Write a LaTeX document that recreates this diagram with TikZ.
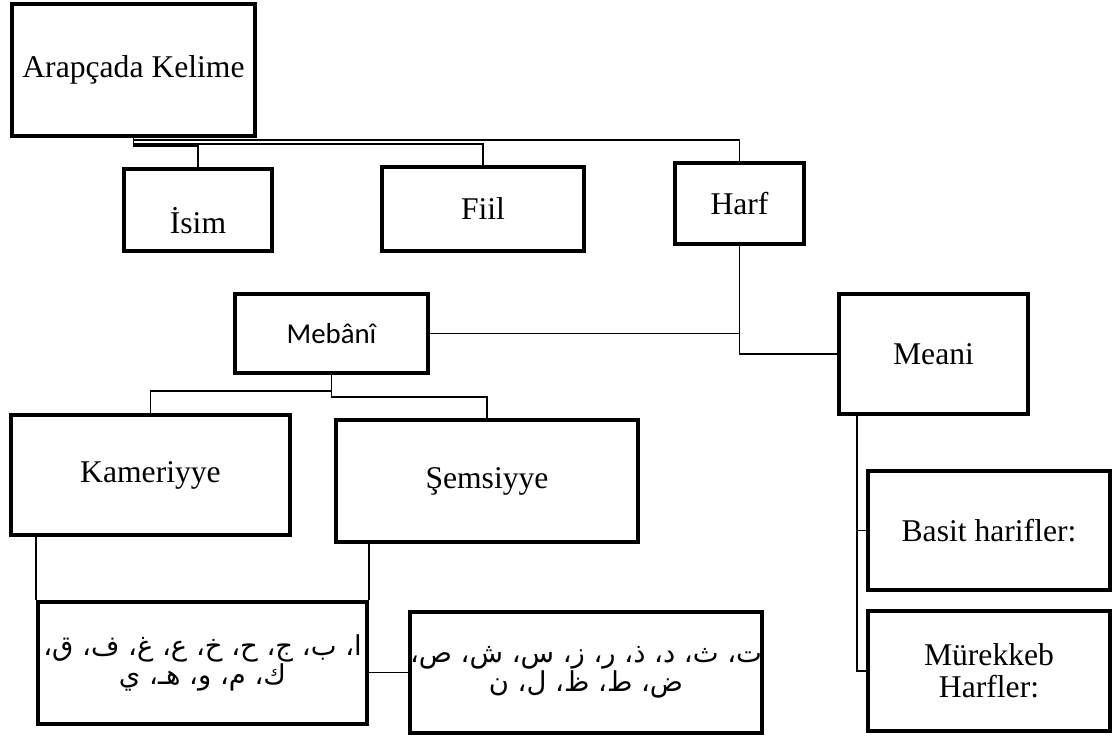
\documentclass[tikz,border=0pt]{standalone}
\usepackage{fontspec}
\setmainfont{Liberation Serif}
\newfontfamily\calibrifont{Carlito}
\newfontfamily\arabicfont[Script=Arabic]{DejaVu Sans}
\TeXXeTstate=1
\begin{document}
\begin{tikzpicture}[x=0.25mm,y=-0.25mm,
  box/.style={draw, line width=2.5pt, fill=white, inner sep=0pt, align=center,
    font=\fontsize{22.5}{23}\selectfont},
  sz/.style 2 args={minimum width=#1*0.25mm, minimum height=#2*0.25mm},
  arab/.style={font=\arabicfont\fontsize{19.5}{20.5}\selectfont},
  sans/.style={font=\calibrifont\fontsize{20.5}{24}\selectfont},
  link/.style={line width=1.3pt}]
\useasboundingbox (0,0) rectangle (1114,735);

% top level
\node[box, sz={243}{132}] (ak) at (133.5,70) {Arapçada Kelime};
\node[box, sz={148}{82}, text height=34pt, text depth=0pt] (isim) at (198,210) {İsim};
\node[box, sz={202}{84}] (fiil) at (483,209) {Fiil};
\node[box, sz={129}{81}] (harf) at (739.5,203.5) {Harf};

% kinds of letters
\node[box, sans, sz={193}{79}] (meb) at (331.5,333.5) {Mebânî};
\node[box, sz={189}{120}] (meani) at (933.5,354) {Meani};

\node[box, sz={279}{120}] (kam) at (150.5,475) {Kameriyye};
\node[box, sz={302}{122}] (sem) at (487,481) {Şemsiyye};

\node[box, sz={242}{119}] (basit) at (989,530.5) {Basit harifler:};
\node[box, sz={242}{120}] (murek) at (989,671) {Mürekkeb\\Harfler:};

\node[box, arab, sz={329}{122}] (ar1) at (202.5,663)
  {\beginR ا، ب، ج، ح، خ، ع، غ، ف، ق،\endR\\\beginR ك، م، و، هـ، ي\endR};
\node[box, arab, sz={348}{121}] (ar2) at (586,672.5)
  {\beginR ت، ث، د، ذ، ر، ز، س، ش، ص،\endR\\\beginR ض، ط، ظ، ل، ن\endR};

% connectors
\draw[link] (ak.south) -- ++(0,2.5) -| (harf.north);
\draw[link] (ak.south) -- ++(0,6) -| (fiil.north);
\draw[link] (ak.south) -- ++(0,8) -| (isim.north);

\draw[link] (harf.south) |- (meb.east);
\draw[link] (harf.south) |- (meani.west);

\draw[link] (meb.south) -- ++(0,16) -| (kam.north);
\draw[link] (meb.south) -- ++(0,22) -| (sem.north);

\draw[link] (ar1.north west |- kam.south) -- (ar1.north west);
\draw[link] (ar1.north east |- sem.south) -- (ar1.north east);
\draw[link] (ar2.west -| ar1.east) -- (ar2.west);

\draw[link] ([xshift=5mm]meani.south west) |- (basit.west);
\draw[link] ([xshift=5mm]meani.south west) |- (murek.west);
\end{tikzpicture}
\end{document}
